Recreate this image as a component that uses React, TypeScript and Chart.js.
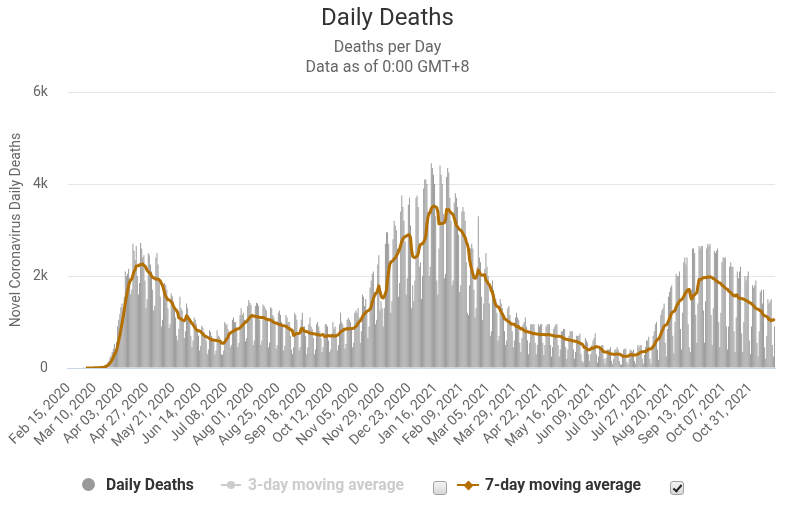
import React, { useEffect, useRef } from "react";
import { Chart, registerables } from "chart.js";

Chart.register(...registerables);

// ---------- data ----------
const START_DATE_UTC = Date.UTC(2020, 1, 15); // Feb 15, 2020 (first category)
const MONTHS = ["Jan", "Feb", "Mar", "Apr", "May", "Jun", "Jul", "Aug", "Sep", "Oct", "Nov", "Dec"];

const TICK_LABELS = [
  "Feb 15, 2020", "Mar 10, 2020", "Apr 03, 2020", "Apr 27, 2020", "May 21, 2020",
  "Jun 14, 2020", "Jul 08, 2020", "Aug 01, 2020", "Aug 25, 2020", "Sep 18, 2020",
  "Oct 12, 2020", "Nov 05, 2020", "Nov 29, 2020", "Dec 23, 2020", "Jan 16, 2021",
  "Feb 09, 2021", "Mar 05, 2021", "Mar 29, 2021", "Apr 22, 2021", "May 16, 2021",
  "Jun 09, 2021", "Jul 03, 2021", "Jul 27, 2021", "Aug 20, 2021", "Sep 13, 2021",
  "Oct 07, 2021", "Oct 31, 2021",
];

const Y_TICKS = [0, 2000, 4000, 6000];

// Daily deaths, one row per week (Sat..Fri), starting Sat Feb 15, 2020
const DAILY_DEATHS = [
  0, 0, 0, 0, 0, 0, 0,
  0, 0, 0, 0, 0, 0, 0,
  1, 0, 4, 1, 3, 1, 2,
  4, 3, 4, 5, 8, 9, 11,
  10, 12, 18, 23, 40, 55, 65,
  80, 120, 150, 230, 270, 350, 420,
  520, 360, 570, 910, 1050, 1170, 1320,
  1400, 1300, 1550, 2100, 2000, 2050, 2150,
  1950, 1600, 1700, 2700, 2550, 2350, 2650,
  2000, 1600, 1850, 2720, 2600, 2400, 2450,
  1900, 1300, 1500, 2500, 2450, 2250, 2100,
  1700, 1250, 1350, 2400, 2500, 2250, 1950,
  1550, 900, 1050, 1800, 1850, 1800, 1700,
  1300, 870, 950, 1620, 1560, 1450, 1350,
  1100, 700, 600, 850, 1550, 1300, 1250,
  1000, 650, 800, 1400, 1300, 1150, 1000,
  700, 450, 600, 1100, 1050, 950, 850,
  700, 380, 480, 920, 880, 780, 720,
  600, 300, 400, 820, 780, 700, 650,
  560, 300, 380, 820, 700, 680, 620,
  300, 280, 380, 1000, 950, 950, 850,
  750, 450, 500, 1050, 1100, 1000, 1000,
  850, 450, 550, 1150, 1300, 1150, 1200,
  1050, 580, 650, 1350, 1480, 1420, 1370,
  1150, 500, 600, 1350, 1420, 1400, 1350,
  1050, 500, 600, 1380, 1350, 1300, 1250,
  1050, 450, 550, 1320, 1300, 1150, 1100,
  1000, 420, 500, 1200, 1250, 1150, 1000,
  950, 380, 480, 1150, 1100, 1000, 1000,
  700, 400, 300, 450, 1200, 1150, 1050,
  720, 380, 450, 1050, 1200, 900, 900,
  700, 300, 450, 950, 1100, 900, 850,
  650, 300, 400, 950, 1000, 900, 800,
  650, 350, 450, 700, 950, 950, 900,
  600, 350, 400, 750, 1000, 850, 900,
  700, 380, 500, 950, 1200, 1000, 950,
  880, 420, 520, 1050, 1100, 1050, 1000,
  850, 450, 550, 1200, 1250, 1200, 1300,
  1100, 550, 800, 1600, 1550, 1350, 1500,
  1250, 650, 900, 1750, 1900, 2050, 2100,
  1650, 950, 1050, 2250, 2450, 1250, 1450,
  1300, 900, 1300, 2700, 2950, 2950, 2700,
  2300, 1200, 1450, 2800, 3200, 3100, 3000,
  2600, 1550, 1850, 3400, 3750, 3500, 3200,
  2750, 1600, 1950, 3550, 3700, 3100, 1300,
  1800, 1450, 1900, 3700, 3750, 3500, 2200,
  2300, 1500, 2000, 3900, 4100, 4100, 4000,
  3400, 2000, 2200, 4450, 4350, 4200, 4000,
  3300, 1900, 1600, 2600, 4400, 4200, 4000,
  3350, 1950, 2050, 4150, 4350, 4250, 3700,
  3200, 1800, 1900, 3600, 3800, 3700, 3500,
  2900, 1650, 1800, 3400, 3500, 3400, 3200,
  2300, 1200, 1150, 1800, 2600, 2700, 2600,
  1700, 1100, 1300, 2200, 3300, 2400, 2300,
  1550, 1050, 1400, 2150, 2500, 2200, 2000,
  1400, 700, 800, 1900, 1700, 1600, 1500,
  1200, 600, 700, 1500, 1400, 1300, 1200,
  800, 500, 600, 1300, 1350, 1150, 1000,
  800, 450, 600, 1100, 1200, 1100, 1050,
  550, 350, 650, 950, 1000, 1100, 900,
  600, 300, 550, 950, 950, 950, 950,
  550, 300, 500, 950, 900, 950, 950,
  550, 280, 500, 900, 950, 950, 950,
  500, 250, 450, 850, 900, 950, 950,
  500, 250, 400, 800, 800, 850, 850,
  450, 200, 400, 700, 800, 800, 800,
  400, 200, 350, 700, 700, 700, 750,
  300, 150, 120, 400, 650, 600, 550,
  300, 150, 300, 500, 600, 650, 750,
  300, 120, 250, 450, 450, 500, 500,
  200, 100, 220, 400, 400, 400, 450,
  150, 90, 200, 400, 400, 450, 400,
  150, 80, 70, 250, 400, 420, 420,
  130, 80, 200, 400, 380, 360, 400,
  150, 90, 250, 500, 450, 500, 500,
  200, 90, 280, 450, 600, 600, 680,
  200, 100, 400, 700, 800, 950, 1000,
  400, 180, 650, 1150, 1250, 1300, 1400,
  550, 250, 850, 1550, 1650, 1750, 1800,
  700, 320, 1000, 2050, 2000, 2000, 2100,
  850, 400, 1200, 2300, 2400, 2250, 2400,
  950, 450, 350, 1700, 2600, 2600, 2500,
  1150, 550, 1400, 2650, 2600, 2650, 2650,
  1250, 550, 1450, 2600, 2700, 2650, 2700,
  1150, 500, 1300, 2550, 2500, 2550, 2600,
  1000, 450, 1200, 2300, 2400, 2400, 2400,
  900, 400, 900, 2200, 2300, 2200, 2200,
  800, 350, 1100, 2100, 1950, 2100, 2200,
  750, 350, 1000, 2000, 1900, 2000, 2100,
  600, 300, 900, 1800, 1750, 1800, 1900,
  550, 250, 800, 1650, 1700, 1400, 1700,
  450, 200, 700, 1500, 1400, 1450, 1500,
  500, 250, 900,
];

const MA_WINDOW = 7;
const MA_FIRST_INDEX = 16; // the moving-average line starts on Mar 02, 2020

// ---------- helpers ----------
function buildCategories(count: number): string[] {
  const out: string[] = [];
  for (let i = 0; i < count; i++) {
    const d = new Date(START_DATE_UTC + i * 86400000);
    const day = String(d.getUTCDate()).padStart(2, "0");
    out.push(`${MONTHS[d.getUTCMonth()]} ${day}, ${d.getUTCFullYear()}`);
  }
  return out;
}

function movingAverage(values: number[], windowSize: number, first: number): (number | null)[] {
  return values.map((_, i) => {
    if (i < first) return null;
    let sum = 0;
    let n = 0;
    for (let j = Math.max(0, i - windowSize + 1); j <= i; j++) {
      sum += values[j];
      n++;
    }
    return sum / n;
  });
}

const ORANGE = "#b36f00";
const FONT = "Roboto, 'Open Sans', sans-serif";

function ChartCanvas() {
  const ref = useRef<HTMLCanvasElement | null>(null);
  useEffect(() => {
    if (!ref.current) return;
    const categories = buildCategories(DAILY_DEATHS.length);
    const ma7 = movingAverage(DAILY_DEATHS, MA_WINDOW, MA_FIRST_INDEX);
    const tickSet = new Set(TICK_LABELS);
    const chart = new Chart(ref.current, {
      type: "bar",
      data: {
        labels: categories,
        datasets: [
          {
            type: "line",
            label: "7-day moving average",
            data: ma7,
            borderColor: ORANGE,
            backgroundColor: ORANGE,
            borderWidth: 3,
            pointRadius: 0,
            tension: 0,
            fill: false,
            borderJoinStyle: "round",
            order: 0,
          } as any,
          {
            type: "bar",
            label: "Daily Deaths",
            data: DAILY_DEATHS,
            backgroundColor: "#999999",
            borderWidth: 0,
            barPercentage: 0.88,
            categoryPercentage: 1,
            order: 1,
          } as any,
        ],
      },
      options: {
        responsive: false,
        animation: false,
        events: [],
        layout: { padding: { top: 92, left: 6, right: 10, bottom: 0 } },
        plugins: {
          legend: { display: false },
          tooltip: { enabled: false },
          title: { display: false },
        },
        scales: {
          x: {
            type: "category",
            grid: { display: false, drawTicks: false },
            border: { display: true, color: "#ccd6eb", width: 1 },
            ticks: {
              autoSkip: false,
              minRotation: 45,
              maxRotation: 45,
              padding: 12,
              color: "#666666",
              font: { family: FONT, size: 14 },
              callback: (_v: any, index: number) => {
                const lab = categories[index];
                return tickSet.has(lab) ? lab : null;
              },
            },
            afterFit: (s: any) => {
              s.height = 137;
            },
          },
          y: {
            min: 0,
            max: 6000,
            afterBuildTicks: (s: any) => {
              s.ticks = Y_TICKS.map((v) => ({ value: v }));
            },
            ticks: {
              padding: 20,
              color: "#666666",
              font: { family: FONT, size: 14 },
              callback: (v: any) => (Number(v) === 0 ? "0" : `${Number(v) / 1000}k`),
            },
            grid: { color: "#e6e6e6", drawTicks: false, lineWidth: 1 },
            border: { display: false },
            title: {
              display: true,
              text: "Novel Coronavirus Daily Deaths",
              color: "#666666",
              font: { family: FONT, size: 14 },
              padding: { top: 0, bottom: 0 },
            },
            afterFit: (s: any) => {
              s.width = 60;
            },
          },
        },
      },
    });
    return () => chart.destroy();
  }, []);
  return (
    <canvas
      ref={ref}
      width={785}
      height={505}
      style={{ position: "absolute", left: 0, top: 0, width: 785, height: 505, display: "block" }}
    />
  );
}

const legendText: React.CSSProperties = {
  position: "absolute",
  top: 475,
  fontFamily: FONT,
  fontWeight: 700,
  fontSize: 15.7,
  lineHeight: "19px",
  whiteSpace: "nowrap",
};

function FakeCheckbox({ left, checked }: { left: number; checked: boolean }) {
  return (
    <div
      style={{
        position: "absolute",
        left,
        top: 481,
        width: 12,
        height: 12,
        border: "1px solid #a0a0a0",
        borderRadius: 3,
        background: "linear-gradient(#f4f4f4, #d8d8d8)",
        boxSizing: "content-box",
      }}
    >
      {checked && (
        <div
          style={{
            position: "absolute",
            left: 4,
            top: 1,
            width: 3,
            height: 7,
            borderRight: "2px solid #222",
            borderBottom: "2px solid #222",
            transform: "rotate(40deg)",
          }}
        />
      )}
    </div>
  );
}

export default function App() {
  useEffect(() => {
    document.body.style.margin = "0";
  }, []);
  return (
    <div style={{ position: "absolute", left: 0, top: 0, width: 785, height: 505, background: "#ffffff", overflow: "hidden" }}>
      <ChartCanvas />
      <div
        style={{
          position: "absolute", left: 0, top: 3, width: 775, textAlign: "center",
          fontFamily: FONT, fontSize: 24, lineHeight: "28px", color: "#333333",
        }}
      >
        Daily Deaths
      </div>
      <div
        style={{
          position: "absolute", left: 0, top: 37, width: 775, textAlign: "center",
          fontFamily: FONT, fontSize: 16, lineHeight: "20px", color: "#666666",
        }}
      >
        <div>Deaths per Day</div>
        <div>Data as of 0:00 GMT+8</div>
      </div>

      {/* legend */}
      <div style={{ position: "absolute", left: 82, top: 478, width: 13, height: 13, borderRadius: "50%", background: "#999999" }} />
      <div style={{ ...legendText, left: 106, color: "#333333" }}>Daily Deaths</div>

      <div style={{ position: "absolute", left: 221, top: 484, width: 20, height: 2, background: "#cccccc" }} />
      <div style={{ position: "absolute", left: 227, top: 481, width: 8, height: 8, borderRadius: "50%", background: "#cccccc" }} />
      <div style={{ ...legendText, left: 248, color: "#cccccc" }}>3-day moving average</div>
      <FakeCheckbox left={433} checked={false} />

      <div style={{ position: "absolute", left: 457, top: 484, width: 22, height: 2, background: ORANGE }} />
      <div style={{ position: "absolute", left: 465, top: 482, width: 7, height: 7, background: ORANGE, transform: "rotate(45deg)" }} />
      <div style={{ ...legendText, left: 485, color: "#333333" }}>7-day moving average</div>
      <FakeCheckbox left={670} checked={true} />
    </div>
  );
}
